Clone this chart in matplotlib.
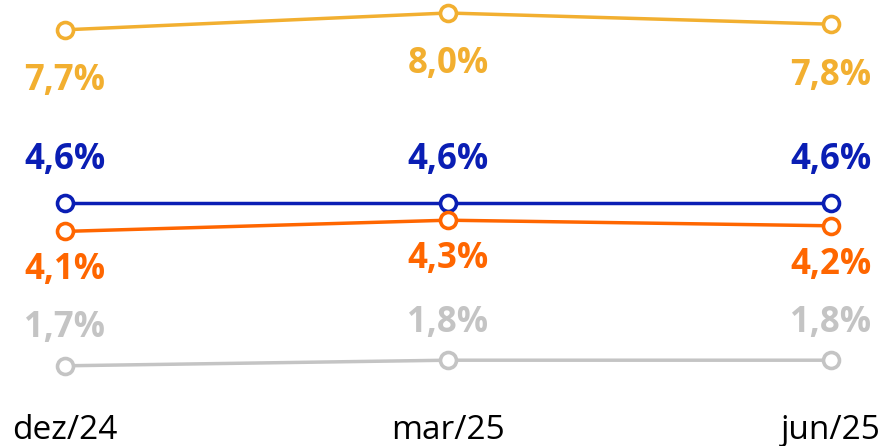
import matplotlib
matplotlib.use("Agg")
import matplotlib.pyplot as plt

# ---- data ---------------------------------------------------------------
periods = ["dez/24", "mar/25", "jun/25"]
yellow_vals = [7.7, 8.0, 7.8]
blue_vals = [4.6, 4.6, 4.6]
orange_vals = [4.1, 4.3, 4.2]
gray_vals = [1.7, 1.8, 1.8]

series = [
    (yellow_vals, "#F2AF30", -37),   # label below point
    (blue_vals, "#0A1EB4", 31),      # label above point
    (orange_vals, "#FF6600", -28),
    (gray_vals, "#C4C4C4", 27),
]

plt.rcParams["font.family"] = ["Open Sans", "DejaVu Sans"]

fig = plt.figure(figsize=(8.87, 4.46), dpi=100)
ax = fig.add_axes([0, 46 / 446, 1, 400 / 446])

x = list(range(len(periods)))
for vals, color, offset in series:
    ax.plot(x, vals, "-o", color=color, lw=2.5, ms=11.5, mew=2.6,
            mfc="white", mec=color, zorder=3)
    for xi, v in zip(x, vals):
        ax.annotate(f"{v:.1f}%".replace(".", ","), (xi, v),
                    xytext=(0, offset), textcoords="offset points",
                    ha="center", va="center", fontsize=25,
                    fontweight="bold", color=color)

ax.set_xlim(-65 / 383, 2 + 56 / 383)
ax.set_ylim((461 - 400) / 56, 461 / 56)
ax.set_xticks(x)
ax.set_xticklabels(periods, fontsize=24, color="black")
ax.tick_params(axis="x", length=0, pad=10)
ax.set_yticks([])
for s in ax.spines.values():
    s.set_visible(False)

fig.savefig("out.png", dpi=100)
